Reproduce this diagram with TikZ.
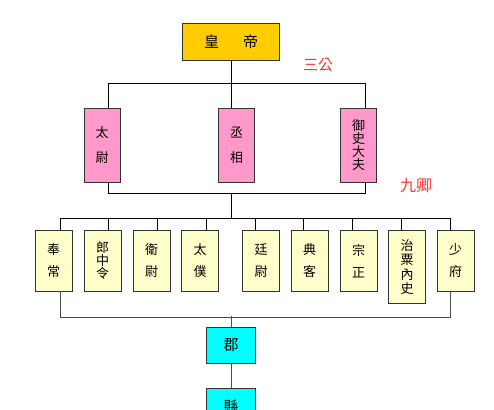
\documentclass[tikz,border=0pt]{standalone}
\usepackage{fontspec}
\usepackage{tikz}
\newfontfamily\cjk{Noto Sans CJK TC}
\definecolor{gold}{HTML}{FFCC00}
\definecolor{pinkbox}{HTML}{FF99CC}
\definecolor{paleyellow}{HTML}{FFFFCC}
\definecolor{cyanbox}{HTML}{00FFFF}
\definecolor{redtext}{HTML}{FF3333}

\begin{document}
\begin{tikzpicture}[x=1pt,y=1pt]
\tikzstyle{every node}+=[inner sep=0pt,font=\cjk\fontsize{13}{13}\selectfont]
\tikzstyle{box}=[draw=black!80,line width=0.9pt,align=center]
\tikzstyle{gong}=[box,fill=pinkbox,minimum width=36pt,minimum height=74pt]
\tikzstyle{qing}=[box,fill=paleyellow,minimum width=37pt,minimum height=61pt,anchor=north]
\tikzstyle{jx}=[box,fill=cyanbox,minimum width=49pt,minimum height=36pt,anchor=north,font=\cjk\fontsize{15}{16}\selectfont]
\tikzstyle{tag}=[text=redtext,font=\cjk\fontsize{15}{16}\selectfont]
\tikzstyle{link}=[black,line width=0.8pt]
\tikzstyle{link2}=[black!70,line width=0.8pt]
\useasboundingbox (0,0) rectangle (494,-409);
\clip (0,0) rectangle (494,-409);
% emperor
\node [box,fill=gold,minimum width=97pt,minimum height=37pt,font=\cjk\fontsize{15}{16}\selectfont] (huangdi) at (231,-41.5) {皇\hspace{24pt}帝};
\node [tag] (sangong) at (318,-65) {三公};
\node [tag,font=\cjk\fontsize{16}{17}\selectfont] (jiuqing) at (416,-186) {九卿};
% three dukes
\node [gong] (taiwei) at (102,-145) {太\\[12pt]尉};
\node [gong] (chengxiang) at (236.5,-145) {丞\\[12pt]相};
\node [gong] (yushi) at (358.5,-145) {御\\史\\大\\夫};
\draw [link] (huangdi.south) -- ([xshift=-5.5pt]chengxiang.north);
\draw [link] ([xshift=6pt]taiwei.north) -- ++(0,24) -| ([xshift=6.5pt]yushi.north);
\draw [link] ([xshift=6pt]taiwei.south) -- ++(0,-11) -| ([xshift=6.5pt]yushi.south);
\coordinate (mid1) at (231,-193);
\coordinate (mid2) at (231,-218);
\draw [link] (mid1) -- (mid2);
% nine ministers
\node [qing] (fengchang) at (53.5,-230) {奉\\[9pt]常};
\node [qing] (langzhong) at (102.5,-230) {郎\\中\\令};
\node [qing] (weiwei) at (151.5,-230) {衛\\[9pt]尉};
\node [qing] (taipu) at (200,-230) {太\\[9pt]僕};
\node [qing] (tingwei) at (261,-230) {廷\\[9pt]尉};
\node [qing] (dianke) at (309.5,-230) {典\\[9pt]客};
\node [qing] (zongzheng) at (358.5,-230) {宗\\[9pt]正};
\node [qing,minimum height=73pt,font=\cjk\fontsize{13}{14.5}\selectfont] (zhisu) at (407,-230) {治\\粟\\內\\史};
\node [qing] (shaofu) at (455.5,-230) {少\\[9pt]府};
\draw [link] ([xshift=6.5pt]fengchang.north) -- ++(0,12) -| ([xshift=-5.5pt]shaofu.north);
\foreach \n in {langzhong,weiwei,taipu}
  \draw [link] ([xshift=6pt]\n.north) -- ++(0,12);
\foreach \n in {tingwei,dianke,zongzheng,zhisu}
  \draw [link] ([xshift=-6pt]\n.north) -- ++(0,12);
\draw [link2] ([xshift=6.5pt]fengchang.south) -- ++(0,-25) -| ([xshift=-5.5pt]shaofu.south);
% commanderies and counties
\node [jx] (jun) at (231,-327) {郡};
\node [jx] (xian) at (231,-388) {縣};
\coordinate (mid3) at (231,-316);
\draw [link2] (mid3) -- (jun.north);
\draw [link2] (jun.south) -- (xian.north);
\end{tikzpicture}
\end{document}
